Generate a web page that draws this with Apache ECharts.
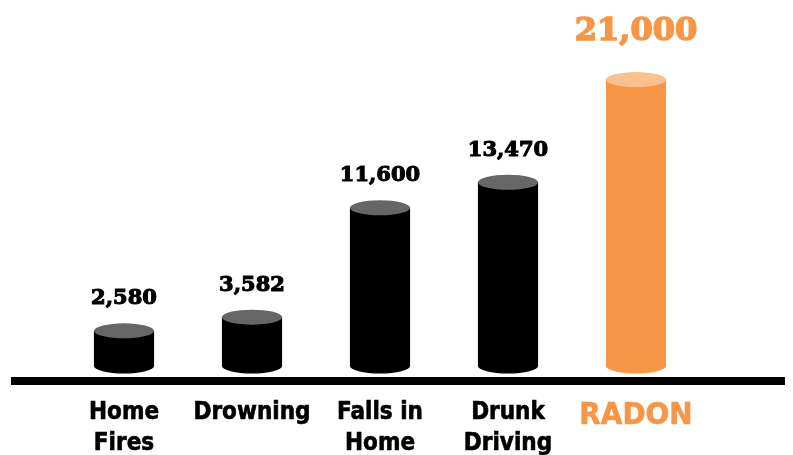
<!DOCTYPE html>
<html>
<head>
<meta charset="utf-8">
<script src="https://cdn.jsdelivr.net/npm/echarts@6/dist/echarts.min.js"></script>
<style>html,body{margin:0;padding:0;background:#fff}#c{width:793px;height:455px}</style>
</head>
<body>
<div id="c"></div>
<script>
const categories = ['Home\nFires', 'Drowning', 'Falls in\nHome', 'Drunk\nDriving', 'RADON'];
const values = [2580, 3582, 11600, 13470, 21000];
const bodyColors = ['#000000', '#000000', '#000000', '#000000', '#F79646'];
const capColors = ['#666666', '#666666', '#666666', '#666666', '#FAC090'];
const labelColors = ['#000000', '#000000', '#000000', '#000000', '#F79646'];

const chart = echarts.init(document.getElementById('c'));
const fmt = v => v.toLocaleString('en-US');

chart.setOption({
  animation: false,
  grid: { left: 60, right: 93, top: 25, bottom: 89, containLabel: false, outerBoundsMode: 'none' },
  xAxis: {
    type: 'category',
    data: categories,
    axisLine: { show: false },
    axisTick: { show: false },
    axisLabel: {
      interval: 0,
      margin: 31,
      verticalAlign: 'top',
      color: '#000',
      fontFamily: '"DejaVu Sans Condensed", "DejaVu Sans"',
      fontWeight: 'bold',
      fontSize: 24,
      lineHeight: 31,
      textBorderColor: '#000',
      textBorderWidth: 0.6,
      formatter: function (v) {
        if (v === 'RADON') return '{r|' + v + '}';
        return v;
      },
      rich: {
        r: { color: '#F79646', fontFamily: '"DejaVu Sans Condensed", "DejaVu Sans"', fontWeight: 'bold', fontSize: 31, lineHeight: 38, textBorderColor: '#F79646', textBorderWidth: 0.6 }
      }
    }
  },
  yAxis: { type: 'value', min: 0, max: 25000, show: false, splitLine: { show: false } },
  graphic: [{ type: 'rect', shape: { x: 11, y: 377, width: 774, height: 8 }, style: { fill: '#000' } }],
  series: [{
    type: 'custom',
    data: values.map((v, i) => [i, v]),
    encode: { x: 0, y: 1 },
    renderItem: function (params, api) {
      const i = api.value(0), v = api.value(1);
      const top = api.coord([i, v]);
      const base = api.coord([i, 0]);
      const w = api.size([1, 0])[0] * 0.47;
      const rx = w / 2, ry = 7.5;
      const big = i === 4;
      return {
        type: 'group',
        children: [
          { type: 'rect', shape: { x: top[0] - rx, y: top[1], width: w, height: base[1] - top[1] }, style: { fill: bodyColors[i] } },
          { type: 'circle', shape: { cx: 0, cy: 0, r: rx }, x: base[0], y: base[1], scaleY: ry / rx, style: { fill: bodyColors[i] } },
          { type: 'circle', shape: { cx: 0, cy: 0, r: rx }, x: top[0], y: top[1], scaleY: ry / rx, style: { fill: capColors[i] } },
          { type: 'text', style: {
              text: fmt(v), x: top[0], y: top[1] - ry - (big ? 24 : 14),
              align: 'center', verticalAlign: 'bottom',
              fill: labelColors[i],
              stroke: labelColors[i], lineWidth: big ? 1.6 : 1.1,
              font: 'bold ' + (big ? 32 : 21) + 'px "DejaVu Serif"'
          } }
        ]
      };
    }
  }]
});
</script>
</body>
</html>
